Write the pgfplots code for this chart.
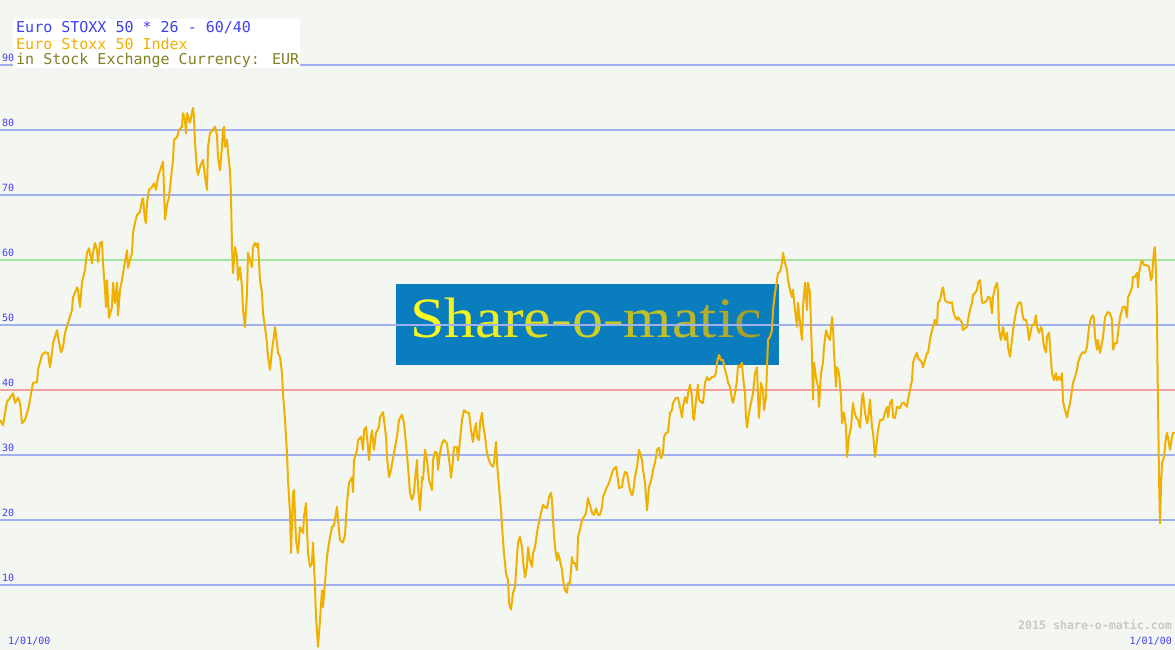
\documentclass[border=0pt]{standalone}
\usepackage{pgfplots}
\pgfplotsset{compat=1.18}
\usepackage{fontspec}
\newfontfamily\monofont{DejaVu Sans Mono}
\newfontfamily\seriffont{Liberation Serif}
\definecolor{bgc}{RGB}{244,246,242}
\definecolor{gridblue}{RGB}{160,176,240}
\definecolor{gridgreen}{RGB}{160,230,160}
\definecolor{gridred}{RGB}{240,160,160}
\definecolor{series}{RGB}{240,176,0}
\definecolor{lblblue}{RGB}{64,64,240}
\definecolor{olive}{RGB}{128,128,36}
\definecolor{logoblue}{RGB}{10,125,190}
\definecolor{lgA}{RGB}{250,250,30}
\definecolor{lgB}{RGB}{165,160,45}
\definecolor{wmgray}{RGB}{200,200,200}
\newcommand{\lc}[2]{\textcolor{lgB!#1!lgA}{#2}}
\begin{document}
\begin{tikzpicture}
\begin{axis}[width=1175pt, height=650pt, scale only axis,
  xmin=0, xmax=1175, ymin=0, ymax=100, hide axis, clip=true]
\fill[bgc] (axis cs:0,0) rectangle (axis cs:1175,100);
% logo
\fill[logoblue] (axis cs:396,56.3) rectangle (axis cs:779,43.85);
\node[anchor=base, font=\seriffont\fontsize{57}{57}\selectfont] at (axis cs:586,48.0) {\scalebox{1.09}[1]{\lc{0}{S}\lc{8}{h}\lc{16}{a}\lc{25}{r}\lc{33}{e}\lc{41}{-}\lc{50}{o}\lc{58}{-}\lc{66}{m}\lc{75}{a}\lc{83}{t}\lc{91}{i}\lc{100}{c}}};
% grid lines
\pgfplotsinvokeforeach{10,20,30,50,70,80,90}{
  \draw[gridblue, line width=2pt] (axis cs:0,#1) -- (axis cs:1175,#1);
}
\draw[gridgreen, line width=2pt] (axis cs:0,60) -- (axis cs:1175,60);
\draw[gridred, line width=2pt] (axis cs:0,40) -- (axis cs:1175,40);
% title box
\fill[white] (axis cs:13,97.1) rectangle (axis cs:300,89.5);
% series
\addplot[series, line width=2pt, line join=round] coordinates {
(0,35.4)(3,34.6)(7,38.2)(10,38.8)(13,39.5)(15,38.0)(18,38.8)(20,38.0)(22,34.9)(25,35.4)
(28,36.9)(30,38.5)(33,41.1)(37,41.2)(38,43.1)(42,45.4)(45,45.8)(48,45.7)(50,43.5)(52,45.7)
(53,47.2)(57,49.2)(58,48.2)(61,45.8)(63,46.6)(65,48.8)(68,50.3)(72,52.3)(73,54.2)(77,55.8)
(78,55.4)(80,52.8)(82,56.5)(85,58.5)(87,61.1)(89,61.8)(92,59.5)(93,61.1)(95,62.6)(97,61.5)
(98,59.7)(100,62.6)(102,62.8)(103,59.5)(105,55.4)(106,52.8)(107,56.9)(109,51.1)(112,52.8)(113,56.5)
(115,53.4)(117,56.5)(118,51.5)(120,55.4)(122,56.9)(124,58.9)(127,61.5)(128,58.8)(132,61.1)(133,64.2)
(135,65.7)(137,66.9)(140,67.4)(142,69.2)(143,69.5)(145,66.2)(146,65.7)(147,68.8)(149,70.8)(152,71.2)
(154,71.8)(156,70.8)(158,72.8)(161,74.2)(163,75.1)(164,70.8)(165,66.2)(167,68.5)(169,69.7)(171,72.6)
(173,75.4)(174,78.5)(177,78.9)(179,80.0)(182,80.5)(183,82.6)(185,81.5)(186,79.5)(187,82.6)(190,81.1)
(193,83.4)(194,82.0)(195,78.0)(197,73.8)(198,73.1)(200,74.3)(203,75.4)(205,72.8)(207,70.8)(208,77.4)
(210,79.5)(213,80.0)(215,80.5)(217,79.2)(218,75.8)(220,73.8)(222,77.4)(223,80.0)(224,80.5)(225,77.4)
(227,78.5)(228,76.5)(230,73.8)(231,69.7)(232,62.0)(233,58.0)(235,62.0)(237,60.5)(238,56.9)(240,58.9)
(242,55.8)(243,52.3)(245,49.7)(247,54.9)(248,61.1)(252,58.9)(253,62.0)(255,62.6)(257,62.0)(258,62.6)
(260,56.9)(262,54.9)(263,51.8)(265,49.7)(267,47.2)(268,45.1)(270,43.1)(272,46.2)(273,47.2)(275,49.7)
(277,47.2)(278,45.7)(280,45.1)(282,42.6)(283,39.5)(285,35.4)(287,30.3)(288,26.2)(290,21.1)(291,14.9)
(293,24.2)(294,24.6)(296,16.9)(298,14.9)(300,18.9)(303,18.0)(304,20.5)(306,22.6)(308,14.9)(310,12.8)
(312,13.4)(313,16.5)(315,9.7)(316,5.1)(318,0.5)(320,4.6)(322,9.2)(323,6.6)(325,10.3)(327,14.3)
(329,16.5)(332,18.9)(334,19.2)(337,22.0)(338,20.0)(340,16.9)(343,16.5)(345,17.7)(347,22.6)(349,25.7)
(352,26.6)(353,24.3)(354,29.2)(357,30.8)(358,32.3)(361,32.8)(363,30.8)(364,33.8)(366,34.3)(368,31.2)
(369,29.2)(371,32.8)(372,33.8)(374,30.8)(376,33.4)(379,34.3)(380,35.8)(383,36.6)(384,35.4)(386,32.8)
(387,29.7)(389,26.6)(391,27.7)(393,29.5)(395,31.2)(397,32.8)(399,35.4)(402,36.2)(404,34.9)(406,31.8)
(408,28.2)(410,24.2)(412,23.1)(414,24.2)(415,26.2)(417,29.2)(418,25.1)(420,21.5)(422,26.6)(423,26.2)
(425,30.8)(427,29.2)(429,26.2)(432,24.6)(433,29.2)(435,30.5)(437,30.3)(438,27.7)(440,30.3)(442,31.8)
(444,32.3)(447,31.8)(448,30.5)(450,28.2)(451,26.5)(453,29.2)(454,31.2)(457,31.2)(458,29.2)(460,32.3)
(462,35.4)(464,36.9)(467,36.5)(469,36.5)(471,33.8)(473,32.0)(474,33.4)(476,34.9)(477,32.8)(479,32.3)
(480,34.9)(482,36.5)(483,34.9)(485,32.8)(487,30.3)(489,29.2)(491,28.5)(493,28.2)(494,28.9)(496,32.0)
(497,28.8)(499,25.1)(501,21.5)(503,16.9)(504,14.9)(506,11.8)(508,10.8)(509,7.2)(511,6.2)(513,8.8)
(515,9.7)(517,14.3)(518,16.5)(520,17.4)(522,15.8)(523,13.8)(525,11.2)(527,12.8)(528,15.8)(530,13.8)
(532,12.8)(533,14.9)(535,15.8)(537,18.0)(538,18.9)(541,21.1)(543,22.3)(545,22.0)(547,21.8)(549,23.5)
(551,24.2)(552,23.1)(553,20.0)(555,15.8)(557,13.8)(558,14.9)(560,13.8)(562,12.3)(563,10.8)(565,9.2)
(567,8.8)(568,10.3)(570,10.3)(572,14.3)(573,13.4)(575,13.4)(577,12.3)(578,17.4)(580,18.5)(582,20.0)
(584,20.5)(586,21.1)(588,23.4)(589,22.8)(592,21.1)(594,20.8)(596,21.8)(598,20.8)(600,20.8)(602,22.0)
(603,23.5)(607,25.1)(609,25.7)(612,27.2)(613,27.7)(616,28.2)(618,26.2)(619,24.9)(622,25.1)(623,26.2)
(625,27.4)(627,27.2)(628,26.2)(630,24.6)(632,23.8)(633,24.2)(635,26.6)(637,28.2)(639,30.8)(642,29.2)
(643,27.7)(645,25.7)(647,21.5)(649,25.1)(652,26.6)(653,27.7)(655,28.8)(657,30.8)(659,31.1)(661,29.5)
(663,30.3)(664,32.8)(666,33.4)(668,33.5)(670,36.5)(672,36.9)(673,38.0)(676,38.8)(678,38.8)(680,37.4)
(682,35.8)(683,37.4)(685,38.9)(687,38.0)(688,39.5)(690,40.8)(692,38.9)(693,35.8)(694,35.4)(696,38.5)
(698,40.8)(699,38.5)(702,38.0)(703,38.0)(705,41.1)(707,42.0)(709,41.5)(712,42.0)(714,42.0)(716,42.6)
(717,44.2)(719,45.4)(721,44.6)(723,44.6)(725,43.1)(727,42.0)(728,41.1)(730,40.5)(732,38.5)(733,38.0)
(735,39.5)(737,41.5)(738,43.8)(740,43.5)(742,44.2)(743,42.0)(745,39.5)(746,35.8)(747,34.2)(749,36.5)
(751,38.0)(753,39.5)(755,42.6)(757,43.5)(758,38.9)(759,35.7)(761,41.1)(763,40.0)(764,36.9)(766,38.9)
(767,43.5)(768,47.7)(770,48.2)(772,49.2)(773,52.3)(775,54.9)(777,56.9)(778,58.0)(780,58.2)(782,59.5)
(783,61.1)(785,59.5)(787,58.5)(788,56.9)(790,55.4)(792,54.3)(793,55.4)(795,52.3)(797,49.7)(798,53.4)
(800,50.3)(802,47.7)(803,52.8)(805,56.5)(807,52.3)(808,56.5)(810,54.9)(812,45.1)(813,38.5)(814,44.2)
(816,42.0)(818,40.5)(819,37.4)(821,42.6)(823,44.2)(824,46.6)(826,49.2)(828,48.2)(830,47.7)(832,51.2)
(833,49.7)(834,45.7)(836,40.5)(837,43.5)(839,42.6)(841,38.9)(842,34.9)(844,36.5)(846,34.3)(847,29.7)
(849,32.8)(851,34.3)(853,38.0)(854,36.9)(856,35.8)(858,35.4)(860,34.2)(862,38.9)(863,39.5)(865,36.5)
(867,34.9)(868,35.4)(870,38.5)(872,34.3)(873,33.4)(875,29.7)(877,32.3)(878,33.8)(880,35.4)(883,35.4)
(885,36.5)(887,37.4)(888,35.8)(890,38.0)(892,38.5)(893,35.8)(895,35.7)(897,37.4)(900,37.2)(902,38.0)
(904,38.0)(907,37.4)(908,38.5)(910,40.0)(912,41.5)(913,44.2)(915,45.1)(917,45.7)(918,44.9)(920,44.6)
(922,44.2)(923,43.5)(925,44.6)(927,45.7)(928,45.7)(930,47.7)(932,49.2)(933,49.7)(935,50.8)(937,50.0)
(938,53.4)(940,53.8)(942,55.4)(943,55.8)(945,53.8)(947,53.5)(948,53.5)(950,53.4)(952,53.5)(953,52.3)
(955,51.2)(957,50.8)(958,51.2)(960,50.8)(962,50.3)(963,49.2)(965,49.5)(967,49.7)(968,50.8)(970,52.3)
(972,53.4)(973,54.6)(975,54.9)(977,55.4)(978,56.5)(980,56.9)(982,53.5)(983,53.4)(985,53.5)(987,53.8)
(988,54.3)(990,54.2)(992,51.8)(993,54.3)(995,55.8)(997,56.5)(998,54.9)(999,49.2)(1001,47.7)(1003,49.7)
(1005,47.7)(1007,48.8)(1008,46.6)(1010,45.1)(1012,47.7)(1013,49.2)(1015,51.2)(1017,52.8)(1019,53.5)(1021,53.4)
(1023,51.1)(1024,50.8)(1026,50.8)(1028,49.2)(1029,47.7)(1031,49.2)(1032,50.0)(1034,50.0)(1036,51.5)(1037,49.7)
(1039,48.8)(1041,49.7)(1042,49.2)(1044,46.6)(1046,45.8)(1047,48.2)(1049,48.8)(1051,44.6)(1052,42.6)(1054,41.5)
(1056,42.6)(1057,41.5)(1059,42.0)(1061,41.5)(1062,42.6)(1063,38.2)(1065,36.9)(1067,35.8)(1068,36.6)(1070,38.0)
(1072,40.0)(1073,41.1)(1075,42.0)(1077,43.1)(1078,44.2)(1080,45.1)(1082,45.7)(1083,45.8)(1085,45.7)(1087,46.6)
(1088,48.2)(1089,49.7)(1091,51.1)(1093,51.5)(1094,50.8)(1095,48.2)(1097,46.2)(1098,47.7)(1100,45.7)(1102,47.2)
(1103,48.2)(1105,51.2)(1107,51.8)(1108,52.0)(1110,51.8)(1112,50.8)(1113,46.2)(1115,47.2)(1117,47.2)(1118,48.8)
(1120,51.2)(1122,52.3)(1123,52.8)(1125,52.8)(1127,51.2)(1128,54.3)(1130,54.9)(1132,55.8)(1133,57.4)(1135,57.4)
(1137,58.0)(1138,55.8)(1139,58.0)(1141,59.5)(1142,60.0)(1144,59.2)(1147,59.2)(1149,58.9)(1151,56.9)(1152,57.4)
(1153,59.5)(1154,61.5)(1155,62.0)(1156,58.0)(1157,51.2)(1157.5,43.5)(1158,38.0)(1159,26.6)(1160,19.5)(1161,25.1)
(1162,28.8)(1164,29.7)(1166,32.8)(1167,33.4)(1169,31.8)(1170,30.8)(1172,32.8)(1173,33.4)(1175,33.4)
};
% y labels
\pgfplotsinvokeforeach{10,20,30,40,50,60,70,80,90}{
  \node[anchor=base west, inner sep=0pt, text=lblblue, font=\monofont\fontsize{10}{10}\selectfont] at (axis cs:2,#1.55) {#1};
}
% title text
\node[anchor=base west, inner sep=0pt, text=lblblue, font=\monofont\fontsize{15}{15}\selectfont] at (axis cs:16,94.95) {Euro STOXX 50 * 26 - 60/40};
\node[anchor=base west, inner sep=0pt, text=series, font=\monofont\fontsize{15}{15}\selectfont] at (axis cs:16,92.46) {Euro Stoxx 50 Index};
\node[anchor=base west, inner sep=0pt, text=olive, font=\monofont\fontsize{15}{15}\selectfont] at (axis cs:16,90.0) {in Stock Exchange Currency: EUR};
% bottom texts
\node[anchor=base west, inner sep=0pt, text=lblblue, font=\monofont\fontsize{10}{10}\selectfont] at (axis cs:8,0.77) {1/01/00};
\node[anchor=base east, inner sep=0pt, text=lblblue, font=\monofont\fontsize{10}{10}\selectfont] at (axis cs:1172,0.77) {1/01/00};
\node[anchor=base east, inner sep=0pt, text=wmgray, font=\monofont\bfseries\fontsize{11.6}{11.6}\selectfont] at (axis cs:1172,3.08) {2015 share-o-matic.com};
\end{axis}
\end{tikzpicture}
\end{document}
